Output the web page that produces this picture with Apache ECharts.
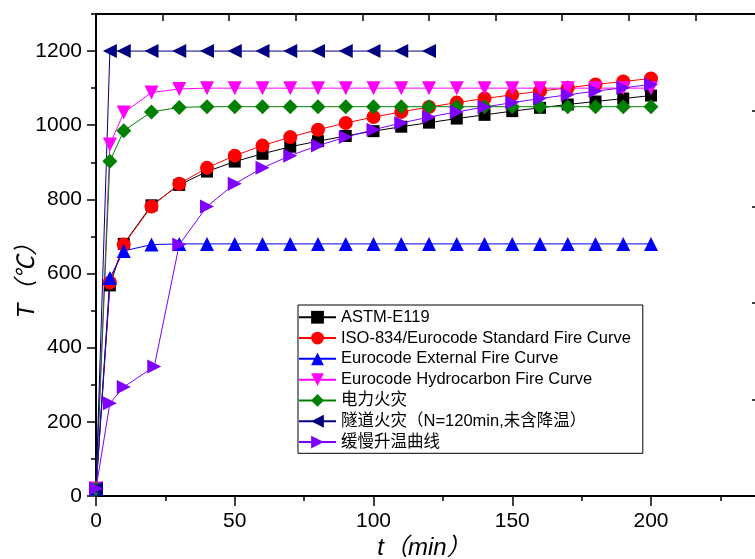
<!DOCTYPE html>
<html>
<head>
<meta charset="utf-8">
<title>火灾升温曲线</title>
<script src="https://cdn.jsdelivr.net/npm/echarts@6/dist/echarts.min.js"></script>
<style>
    html, body { margin: 0; padding: 0; background: #fff; }
    #main { width: 755px; height: 559px; }
</style>
</head>
<body>
<div id="main"></div>
<script>
    // time points (min)
    var times = [0, 5, 10, 20, 30, 40, 50, 60, 70, 80, 90, 100, 110, 120, 130, 140, 150, 160, 170, 180, 190, 200];
    var tunnelTimes = [0, 5, 10, 20, 30, 40, 50, 60, 70, 80, 90, 100, 110, 120];
    var slowTimes = [0, 5, 10, 21, 30, 40, 50, 60, 70, 80, 90, 100, 110, 120, 130, 140, 150, 160, 170, 180, 190, 200];

    // temperatures (℃)
    var astm = [20, 568, 680, 784, 839, 875, 902, 923, 942, 957, 971, 984, 996, 1007, 1018, 1028, 1038, 1047, 1056, 1064, 1072, 1080];
    var iso834 = [20, 576, 678, 781, 842, 885, 918, 945, 968, 988, 1006, 1022, 1036, 1049, 1061, 1072, 1082, 1092, 1101, 1110, 1118, 1126];
    var external = [20, 588, 661, 678, 680, 680, 680, 680, 680, 680, 680, 680, 680, 680, 680, 680, 680, 680, 680, 680, 680, 680];
    var hydro = [20, 948, 1034, 1088, 1098, 1100, 1100, 1100, 1100, 1100, 1100, 1100, 1100, 1100, 1100, 1100, 1100, 1100, 1100, 1100, 1100, 1100];
    var power = [20, 903, 985, 1036, 1048, 1050, 1050, 1050, 1050, 1050, 1050, 1050, 1050, 1050, 1050, 1050, 1050, 1050, 1050, 1050, 1050, 1050];
    var tunnel = [20, 1200, 1200, 1200, 1200, 1200, 1200, 1200, 1200, 1200, 1200, 1200, 1200, 1200];
    var slow = [20, 250, 294, 349, 678, 781, 842, 885, 918, 945, 968, 988, 1006, 1022, 1036, 1049, 1061, 1072, 1082, 1092, 1101, 1110];

    var names = ['ASTM-E119', 'ISO-834/Eurocode Standard Fire Curve', 'Eurocode External Fire Curve',
        'Eurocode Hydrocarbon Fire Curve', '电力火灾', '隧道火灾（N=120min,未含降温）', '缓慢升温曲线'];
    var yTicks = [0, 200, 400, 600, 800, 1000, 1200];

    function pairs(xs, ys) {
        return xs.map(function (x, i) { return [x, ys[i]]; });
    }
    function plain(v) { return String(v); }

    var FONT = 'Liberation Sans, Arial, Noto Sans CJK SC, sans-serif';

    function mkSeries(name, xs, ys, color, symbol, size, rotate) {
        return {
            name: name,
            type: 'line',
            data: pairs(xs, ys),
            xAxisIndex: 0,
            yAxisIndex: 0,
            symbol: symbol,
            symbolSize: size,
            symbolRotate: rotate || 0,
            showAllSymbol: true,
            animation: false,
            clip: false,
            lineStyle: { color: color, width: 1 },
            itemStyle: { color: color, borderWidth: 0 }
        };
    }

    var chart = echarts.init(document.getElementById('main'));
    chart.setOption({
        backgroundColor: '#fff',
        animation: false,
        grid: { left: 96, right: -7, top: 14, bottom: 63, containLabel: false, outerBoundsMode: 'none' },
        legend: {
            orient: 'vertical',
            left: 298,
            top: 305,
            data: names,
            itemWidth: 37,
            itemHeight: 16,
            itemGap: 4.3,
            padding: [4, 12, 3, 0],
            borderColor: '#000',
            borderWidth: 1,
            backgroundColor: '#fff',
            textStyle: { fontSize: 16.5, color: '#000', fontFamily: FONT, lineHeight: 16 }
        },
        xAxis: [{
            type: 'value',
            position: 'bottom',
            min: 0, max: 240, interval: 50,
            name: 't（min）',
            nameLocation: 'middle',
            nameGap: 40,
            nameMoveOverlap: false,
            nameTextStyle: { fontSize: 24, fontStyle: 'italic', color: '#000', fontFamily: FONT, padding: [0, 10, 0, 0] },
            axisLine: { onZero: false, lineStyle: { color: '#000', width: 2 } },
            axisTick: { inside: false, length: 10, lineStyle: { color: '#000', width: 1.5 } },
            axisLabel: { fontSize: 21, color: '#000', fontFamily: FONT, margin: 15, showMaxLabel: false, formatter: plain },
            splitLine: { show: false }
        }, {
            type: 'value',
            position: 'bottom',
            min: 0, max: 240, interval: 25,
            axisLine: { show: false, onZero: false },
            axisTick: { inside: false, length: 5, lineStyle: { color: '#000', width: 1.5 } },
            axisLabel: { show: false },
            splitLine: { show: false }
        }, {
            type: 'value',
            position: 'top',
            min: 0, max: 10, interval: 1,
            axisLine: { onZero: false, lineStyle: { color: '#000', width: 2 } },
            axisTick: { inside: true, length: 7, lineStyle: { color: '#000', width: 1.5 } },
            axisLabel: { show: false },
            splitLine: { show: false }
        }],
        yAxis: [{
            type: 'value',
            position: 'left',
            min: 0, max: 1300, interval: 100,
            name: 'T（℃）',
            nameLocation: 'middle',
            nameGap: 57,
            nameMoveOverlap: false,
            nameTextStyle: { fontSize: 24, fontStyle: 'italic', color: '#000', fontFamily: FONT, padding: [0, 40, 0, 0] },
            axisLine: { onZero: false, lineStyle: { color: '#000', width: 2 } },
            axisTick: { inside: false, length: 9, customValues: yTicks, lineStyle: { color: '#000', width: 1.5 } },
            axisLabel: { fontSize: 21, color: '#000', fontFamily: FONT, margin: 14, customValues: yTicks, formatter: plain },
            splitLine: { show: false }
        }, {
            type: 'value',
            position: 'left',
            min: 0, max: 1300, interval: 100,
            axisLine: { show: false, onZero: false },
            axisTick: { inside: false, length: 5, lineStyle: { color: '#000', width: 1.5 } },
            axisLabel: { show: false },
            splitLine: { show: false }
        }, {
            type: 'value',
            position: 'right',
            min: 0, max: 5, interval: 1,
            axisLine: { onZero: false, lineStyle: { color: '#000', width: 2 } },
            axisTick: { inside: true, length: 10, lineStyle: { color: '#000', width: 1.5 } },
            axisLabel: { show: false },
            splitLine: { show: false }
        }],
        series: [
            mkSeries(names[0], times, astm, '#000000', 'rect', 12),
            mkSeries(names[1], times, iso834, '#FF0000', 'circle', 14),
            mkSeries(names[2], times, external, '#0000FF', 'triangle', 14),
            mkSeries(names[3], times, hydro, '#FF00FF', 'triangle', 14, 180),
            mkSeries(names[4], times, power, '#008000', 'diamond', 15),
            mkSeries(names[5], tunnelTimes, tunnel, '#000080', 'triangle', 14, 90),
            mkSeries(names[6], slowTimes, slow, '#8000FF', 'triangle', 14, -90)
        ]
    });
</script>
</body>
</html>
